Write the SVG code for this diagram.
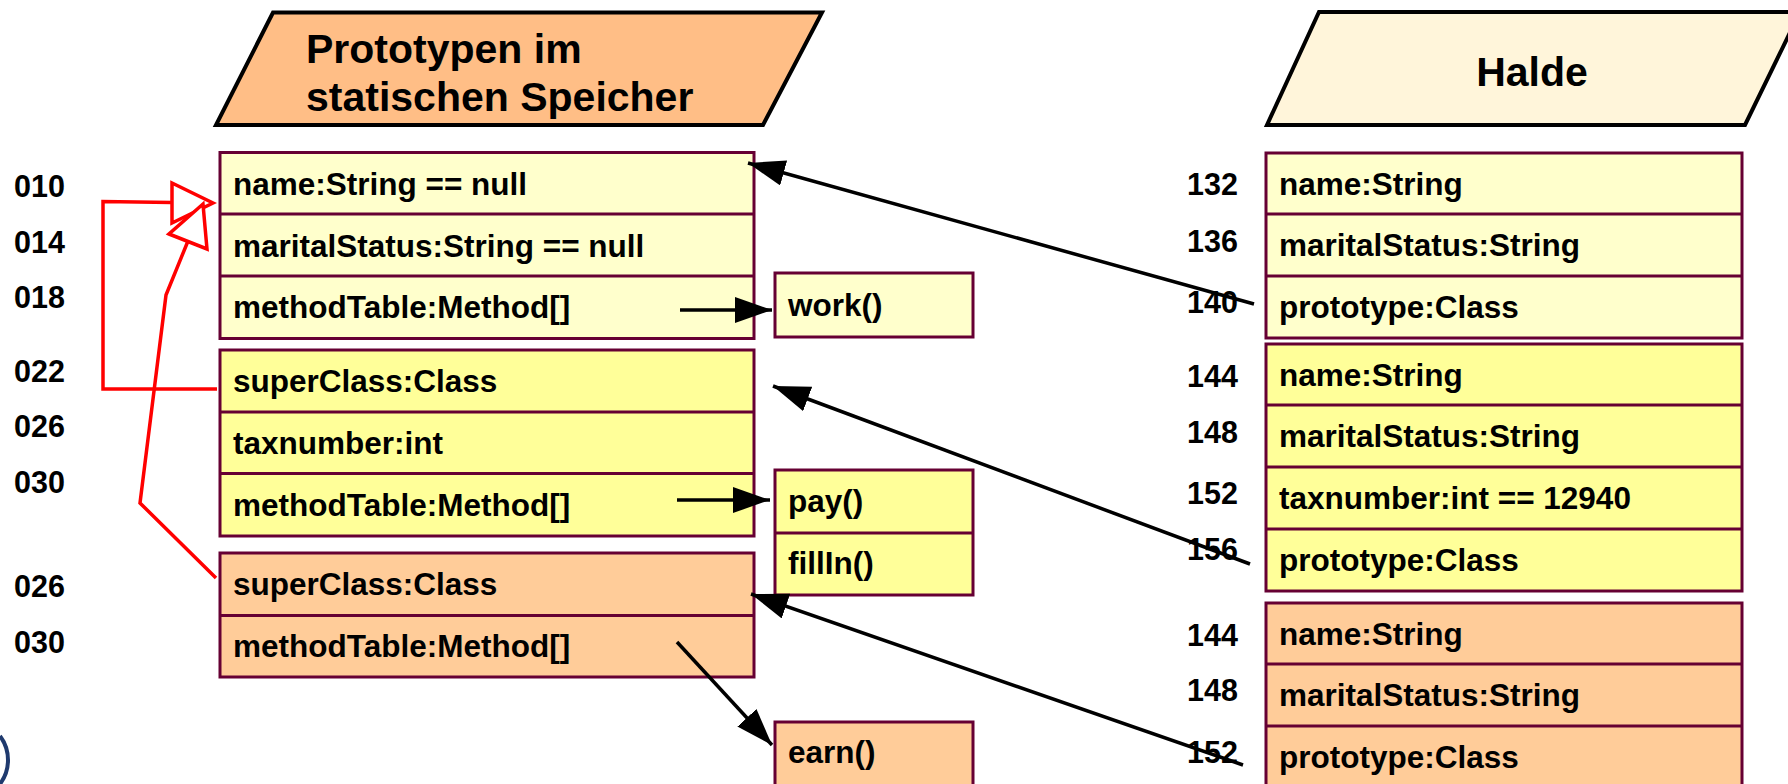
<svg xmlns="http://www.w3.org/2000/svg" width="1788" height="784" viewBox="0 0 1788 784">
<style>
  text { font-family: "Liberation Sans", Arial, sans-serif; font-weight: bold; fill: #000; }
  .hdr { font-size: 41px; }
  .row { font-size: 31.5px; }
  .lbl { font-size: 30.5px; }
  .box { stroke: #660033; stroke-width: 3; }
  .sep { stroke: #660033; stroke-width: 3; }
  .c1 { fill: #FFFFCC; }
  .c2 { fill: #FFFF99; }
  .c3 { fill: #FFCC99; }
  .arr { stroke: #000; stroke-width: 3.5; fill: none; marker-end: url(#ah); }
  .red { stroke: #FF0000; stroke-width: 3.5; fill: none; }
  .tri { stroke: #FF0000; stroke-width: 3.5; fill: #FFFFFF; }
</style>
<defs>
  <marker id="ah" markerUnits="userSpaceOnUse" markerWidth="40" markerHeight="28" refX="37" refY="13" orient="auto">
    <path d="M0,0 L37,13 L0,26 z" fill="#000"/>
  </marker>
</defs>
<rect width="1788" height="784" fill="#FFFFFF"/>

<g id="header-static">
  <polygon points="273,12.5 822,12.5 763,125 216,125" fill="#FFBE86" stroke="#000" stroke-width="4"/>
  <text class="hdr" x="306" y="63">Prototypen im</text>
  <text class="hdr" x="306" y="111">statischen Speicher</text>
</g>
<g id="header-heap">
  <polygon points="1319,12 1800,12 1745,125 1267,125" fill="#FFF5DA" stroke="#000" stroke-width="4"/>
  <text class="hdr" x="1532" y="86" text-anchor="middle">Halde</text>
</g>

<g id="addr-left">
  <text class="lbl" x="14" y="197">010</text>
  <text class="lbl" x="14" y="253">014</text>
  <text class="lbl" x="14" y="308">018</text>
  <text class="lbl" x="14" y="382">022</text>
  <text class="lbl" x="14" y="437">026</text>
  <text class="lbl" x="14" y="493">030</text>
  <text class="lbl" x="14" y="597">026</text>
  <text class="lbl" x="14" y="653">030</text>
</g>

<g id="proto-person">
  <rect class="box c1" x="220" y="152.5" width="534" height="186"/>
  <line class="sep" x1="220" y1="214" x2="754" y2="214"/>
  <line class="sep" x1="220" y1="276" x2="754" y2="276"/>
  <text class="row" x="233" y="195">name:String == null</text>
  <text class="row" x="233" y="257">maritalStatus:String == null</text>
  <text class="row" x="233" y="318">methodTable:Method[]</text>
</g>
<g id="proto-taxpayer">
  <rect class="box c2" x="220" y="350" width="534" height="186"/>
  <line class="sep" x1="220" y1="412" x2="754" y2="412"/>
  <line class="sep" x1="220" y1="473.5" x2="754" y2="473.5"/>
  <text class="row" x="233" y="392">superClass:Class</text>
  <text class="row" x="233" y="454">taxnumber:int</text>
  <text class="row" x="233" y="516">methodTable:Method[]</text>
</g>
<g id="proto-worker">
  <rect class="box c3" x="220" y="553" width="534" height="124"/>
  <line class="sep" x1="220" y1="615.5" x2="754" y2="615.5"/>
  <text class="row" x="233" y="595">superClass:Class</text>
  <text class="row" x="233" y="657">methodTable:Method[]</text>
</g>

<g id="method-work">
  <rect class="box c1" x="775" y="273" width="198" height="64"/>
  <text class="row" x="788" y="316">work()</text>
</g>
<g id="method-pay-fillin">
  <rect class="box c2" x="775" y="470" width="198" height="125"/>
  <line class="sep" x1="775" y1="533" x2="973" y2="533"/>
  <text class="row" x="788" y="512">pay()</text>
  <text class="row" x="788" y="574">fillIn()</text>
</g>
<g id="method-earn">
  <rect class="box c3" x="775" y="722" width="198" height="72"/>
  <text class="row" x="788" y="763">earn()</text>
</g>

<g id="addr-right">
  <text class="lbl" x="1238" y="195" text-anchor="end">132</text>
  <text class="lbl" x="1238" y="252" text-anchor="end">136</text>
  <text class="lbl" x="1238" y="313" text-anchor="end">140</text>
  <text class="lbl" x="1238" y="387" text-anchor="end">144</text>
  <text class="lbl" x="1238" y="443" text-anchor="end">148</text>
  <text class="lbl" x="1238" y="504" text-anchor="end">152</text>
  <text class="lbl" x="1238" y="560" text-anchor="end">156</text>
  <text class="lbl" x="1238" y="646" text-anchor="end">144</text>
  <text class="lbl" x="1238" y="701" text-anchor="end">148</text>
  <text class="lbl" x="1238" y="763" text-anchor="end">152</text>
</g>

<g id="heap-person">
  <rect class="box c1" x="1266" y="153" width="476" height="185"/>
  <line class="sep" x1="1266" y1="214" x2="1742" y2="214"/>
  <line class="sep" x1="1266" y1="276" x2="1742" y2="276"/>
  <text class="row" x="1279" y="195">name:String</text>
  <text class="row" x="1279" y="256">maritalStatus:String</text>
  <text class="row" x="1279" y="318">prototype:Class</text>
</g>
<g id="heap-taxpayer">
  <rect class="box c2" x="1266" y="344" width="476" height="247"/>
  <line class="sep" x1="1266" y1="405" x2="1742" y2="405"/>
  <line class="sep" x1="1266" y1="467" x2="1742" y2="467"/>
  <line class="sep" x1="1266" y1="529" x2="1742" y2="529"/>
  <text class="row" x="1279" y="386">name:String</text>
  <text class="row" x="1279" y="447">maritalStatus:String</text>
  <text class="row" x="1279" y="509">taxnumber:int == 12940</text>
  <text class="row" x="1279" y="571">prototype:Class</text>
</g>
<g id="heap-worker">
  <rect class="box c3" x="1266" y="603" width="476" height="195"/>
  <line class="sep" x1="1266" y1="664" x2="1742" y2="664"/>
  <line class="sep" x1="1266" y1="726" x2="1742" y2="726"/>
  <text class="row" x="1279" y="645">name:String</text>
  <text class="row" x="1279" y="706">maritalStatus:String</text>
  <text class="row" x="1279" y="768">prototype:Class</text>
</g>

<g id="corner-mark">
  <path d="M0,736 A40,40 0 0 1 0,784" fill="none" stroke="#1F3A6E" stroke-width="4"/>
</g>

<g id="connectors">
  <line class="arr" x1="680" y1="310" x2="772" y2="310"/>
  <line class="arr" x1="677" y1="500" x2="770" y2="500"/>
  <line class="arr" x1="677" y1="642" x2="772" y2="745"/>
  <line class="arr" x1="1254" y1="304" x2="748" y2="163"/>
  <line class="arr" x1="1250" y1="564" x2="773" y2="386"/>
  <line class="arr" x1="1243" y1="765" x2="751" y2="594"/>
  <polyline class="red" points="217,389 103,389 103,201.5 172,202.5"/>
  <polygon class="tri" points="172,183 172,223 213,203"/>
  <polyline class="red" points="216,578 140,503 166,295 188,241"/>
  <polygon class="tri" points="169,234 207,249 203,204"/>
</g>
</svg>
